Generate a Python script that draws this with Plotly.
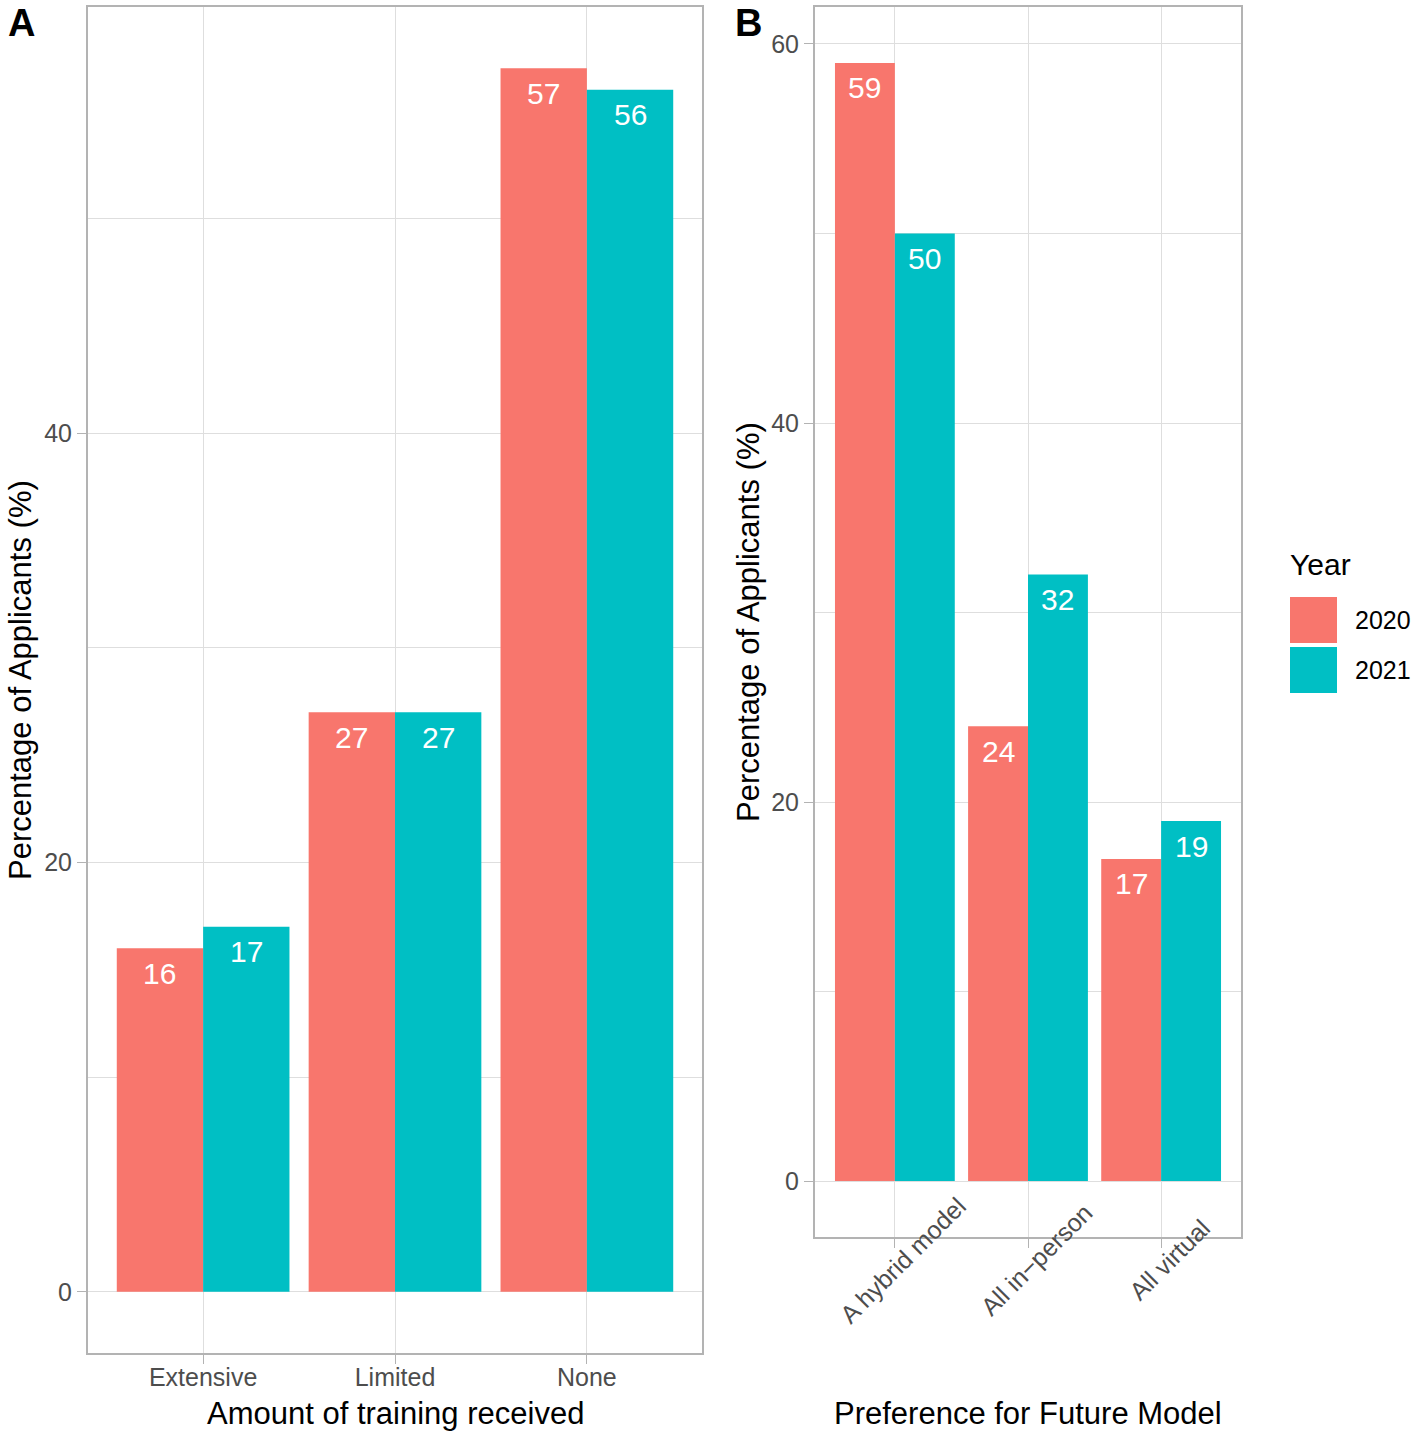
import plotly.graph_objects as go

# ---- data ----
years = ["2020", "2021"]
training_cats = ["Extensive", "Limited", "None"]
training_2020 = [16, 27, 57]
training_2021 = [17, 27, 56]

pref_cats = ["A hybrid model", "All in\u2212person", "All virtual"]
pref_2020 = [59, 24, 17]
pref_2021 = [50, 32, 19]

colors = ["#F8766D", "#00BFC4"]

W, H = 1416, 1432
FONT = "Liberation Sans, Arial, sans-serif"
GRID = "#DEDEDE"
BORDER = "#B3B3B3"
TICKTXT = "#4D4D4D"


def px(x):
    return x / W


def py(y):
    return 1 - y / H


fig = go.Figure()

for j, (vals, yr) in enumerate([(training_2020, years[0]), (training_2021, years[1])]):
    fig.add_trace(go.Bar(x=training_cats, y=vals, name=yr, marker=dict(color=colors[j], line=dict(width=0)),
                         xaxis="x", yaxis="y", showlegend=False, hoverinfo="x+y"))
for j, (vals, yr) in enumerate([(pref_2020, years[0]), (pref_2021, years[1])]):
    fig.add_trace(go.Bar(x=pref_cats, y=vals, name=yr, marker=dict(color=colors[j], line=dict(width=0)),
                         xaxis="x2", yaxis="y2", showlegend=False, hoverinfo="x+y"))

annotations = []
# value labels
for xref, yref, series in [("x", "y", [training_2020, training_2021]), ("x2", "y2", [pref_2020, pref_2021])]:
    for j, vals in enumerate(series):
        for i, v in enumerate(vals):
            annotations.append(dict(x=i + (j - 0.5) * 0.45, y=v, xref=xref, yref=yref, text=str(v),
                                    showarrow=False, yshift=-25, xanchor="center", yanchor="middle",
                                    font=dict(family=FONT, size=30, color="white")))

# rotated category labels for panel B
for i, c in enumerate(pref_cats):
    annotations.append(dict(x=i, xref="x2", y=py(1260), yref="paper", text=c, textangle=-45,
                            showarrow=False, xshift=8, xanchor="center", yanchor="middle",
                            font=dict(family=FONT, size=25, color=TICKTXT)))

# axis titles
annotations += [
    dict(x=px(395), y=py(1413), xref="paper", yref="paper", text="Amount of training received",
         showarrow=False, xanchor="center", yanchor="middle", font=dict(family=FONT, size=31, color="black")),
    dict(x=px(1028), y=py(1413), xref="paper", yref="paper", text="Preference for Future Model",
         showarrow=False, xanchor="center", yanchor="middle", font=dict(family=FONT, size=31, color="black")),
    dict(x=px(20), y=py(680), xref="paper", yref="paper", text="Percentage of Applicants (%)", textangle=-90,
         showarrow=False, xanchor="center", yanchor="middle", font=dict(family=FONT, size=31, color="black")),
    dict(x=px(748), y=py(622), xref="paper", yref="paper", text="Percentage of Applicants (%)", textangle=-90,
         showarrow=False, xanchor="center", yanchor="middle", font=dict(family=FONT, size=31, color="black")),
    # panel letters
    dict(x=px(21), y=1, xref="paper", yref="paper", text="<b>A</b>",
         showarrow=False, xanchor="center", yanchor="top", font=dict(family=FONT, size=38, color="black")),
    dict(x=px(748), y=1, xref="paper", yref="paper", text="<b>B</b>",
         showarrow=False, xanchor="center", yanchor="top", font=dict(family=FONT, size=38, color="black")),
    # legend
    dict(x=px(1288), y=py(565), xref="paper", yref="paper", text="Year",
         showarrow=False, xanchor="left", yanchor="middle", font=dict(family=FONT, size=30, color="black")),
]
shapes = []
for j, yr in enumerate(years):
    top = 597 + j * 50
    shapes.append(dict(type="rect", xref="paper", yref="paper", x0=px(1290), x1=px(1337), y0=py(top), y1=py(top + 46),
                       fillcolor=colors[j], line=dict(width=0)))
    annotations.append(dict(x=px(1353), y=py(top + 23), xref="paper", yref="paper", text=yr,
                            showarrow=False, xanchor="left", yanchor="middle",
                            font=dict(family=FONT, size=25, color="black")))

axis_common = dict(showline=True, linecolor=BORDER, linewidth=2, mirror=True,
                   gridcolor=GRID, gridwidth=1.3, zeroline=False,
                   ticks="outside", ticklen=9, tickwidth=1.3, tickcolor=BORDER,
                   tickfont=dict(family=FONT, size=25, color=TICKTXT))

fig.update_layout(
    width=W, height=H, autosize=False,
    margin=dict(l=0, r=0, t=0, b=0),
    paper_bgcolor="white", plot_bgcolor="white",
    barmode="group", bargap=0.1, bargroupgap=0,
    showlegend=False,
    xaxis=dict(domain=[px(88), px(702)], anchor="y", range=[-0.6, 2.6], showgrid=True,
               ticklabelstandoff=-8, **axis_common),
    yaxis=dict(domain=[py(1353), py(7)], anchor="x", range=[-2.85, 59.85], tickmode="array",
               tickvals=[0, 20, 40], showgrid=True,
               minor=dict(tickvals=[10, 30, 50], showgrid=True, gridcolor=GRID, gridwidth=0.7, ticks=""),
               **axis_common),
    xaxis2=dict(domain=[px(815), px(1241)], anchor="y2", range=[-0.6, 2.6], showgrid=True,
                showticklabels=False, **axis_common),
    yaxis2=dict(domain=[py(1237), py(7)], anchor="x2", range=[-2.95, 61.95], tickmode="array",
                tickvals=[0, 20, 40, 60], showgrid=True,
                minor=dict(tickvals=[10, 30, 50], showgrid=True, gridcolor=GRID, gridwidth=0.7, ticks=""),
                **axis_common),
    annotations=annotations,
    shapes=shapes,
)

fig.write_html("out.html", config={"displayModeBar": False},
               post_script="document.body.style.margin='0px';document.body.style.padding='0px';")
